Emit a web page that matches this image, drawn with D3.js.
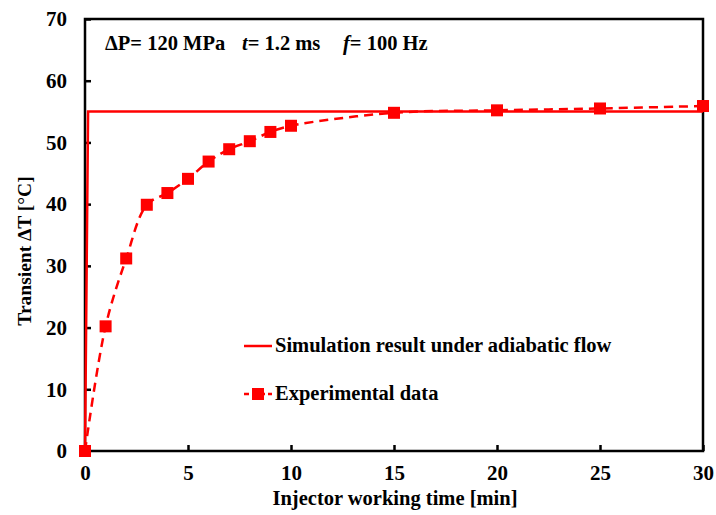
<!DOCTYPE html>
<html>
<head>
<meta charset="utf-8">
<script src="https://cdn.jsdelivr.net/npm/d3@7"></script>
<style>
  html, body { margin: 0; padding: 0; background: #fff; }
  svg { display: block; }
  text { font-family: "Liberation Serif", "Times New Roman", serif; font-weight: bold; fill: #000; }
</style>
</head>
<body>
<svg id="chart" width="716" height="515"></svg>
<script>
// Adiabatic-flow simulation (step rise to a plateau)
const simTime = [0, 0.15, 30];
const simDeltaT = [0, 55, 55];

// Measured transient temperature rise
const expTime = [0, 1, 2, 3, 4, 5, 6, 7, 8, 9, 10, 15, 20, 25, 30];
const expDeltaT = [0, 20.2, 31.2, 39.9, 41.8, 44.1, 46.9, 48.9, 50.2, 51.7, 52.7, 54.8, 55.2, 55.5, 55.9];

const xTicks = [0, 5, 10, 15, 20, 25, 30];
const yTicks = [0, 10, 20, 30, 40, 50, 60, 70];

const legendLabels = ["Simulation result under adiabatic flow", "Experimental data"];

const red = "#ff0000";
const svg = d3.select("#chart");
const m = { left: 85, top: 19, right: 703, bottom: 451 };

const x = d3.scaleLinear().domain([0, 30]).range([m.left, m.right]);
const y = d3.scaleLinear().domain([0, 70]).range([m.bottom, m.top]);

// Axes with inward ticks
const xAxis = svg.append("g").attr("transform", `translate(0,${m.bottom})`)
  .call(d3.axisBottom(x).tickValues(xTicks).tickSize(-6).tickPadding(15));
const yAxis = svg.append("g").attr("transform", `translate(${m.left},0)`)
  .call(d3.axisLeft(y).tickValues(yTicks).tickSize(-6).tickPadding(18));
[xAxis, yAxis].forEach(g => {
  g.select(".domain").remove();
  g.selectAll(".tick line").attr("stroke", "#000").attr("stroke-width", 2.5);
  g.selectAll(".tick text").style("font-size", "21px").style("font-family", "Liberation Serif").style("font-weight", "bold");
});
xAxis.selectAll(".tick text").attr("dy", "0.68em");

// Plot frame
svg.append("rect")
  .attr("x", m.left).attr("y", m.top)
  .attr("width", m.right - m.left).attr("height", m.bottom - m.top)
  .attr("fill", "none").attr("stroke", "#000").attr("stroke-width", 2.5);

// Simulation line
const simData = simTime.map((t, i) => [t, simDeltaT[i]]);
svg.append("path")
  .datum(simData)
  .attr("fill", "none").attr("stroke", red).attr("stroke-width", 2.5)
  .attr("d", d3.line().x(d => x(d[0])).y(d => y(d[1])));

// Experimental curve (smoothed, dashed) with square markers
const expData = expTime.map((t, i) => [t, expDeltaT[i]]);
svg.append("path")
  .datum(expData)
  .attr("fill", "none").attr("stroke", red).attr("stroke-width", 2.5)
  .attr("stroke-dasharray", "9,6")
  .attr("d", d3.line().curve(d3.curveCatmullRom.alpha(0.5)).x(d => x(d[0])).y(d => y(d[1])));

const ms = 12;
svg.append("g").selectAll("rect")
  .data(expData).join("rect")
  .attr("x", d => x(d[0]) - ms / 2).attr("y", d => y(d[1]) - ms / 2)
  .attr("width", ms).attr("height", ms).attr("fill", red);

// Test-condition annotation
const ann = svg.append("text").attr("y", 50).style("font-size", "20.5px");
ann.append("tspan").attr("x", 105).text("ΔP= 120 MPa");
ann.append("tspan").attr("x", 242).style("font-style", "italic").text("t");
ann.append("tspan").text("= 1.2 ms");
ann.append("tspan").attr("x", 343).style("font-style", "italic").text("f");
ann.append("tspan").text("= 100 Hz");

// Legend
const lg = svg.append("g");
lg.append("line").attr("x1", 244).attr("x2", 272).attr("y1", 346).attr("y2", 346)
  .attr("stroke", red).attr("stroke-width", 2.5);
lg.append("text").attr("x", 275).attr("y", 352).style("font-size", "20.5px").text(legendLabels[0]);
lg.append("line").attr("x1", 244).attr("x2", 272).attr("y1", 394).attr("y2", 394)
  .attr("stroke", red).attr("stroke-width", 2.5).attr("stroke-dasharray", "5,3");
lg.append("rect").attr("x", 258 - ms / 2).attr("y", 394 - ms / 2).attr("width", ms).attr("height", ms).attr("fill", red);
lg.append("text").attr("x", 275).attr("y", 400).style("font-size", "20.5px").text(legendLabels[1]);

// Axis titles
svg.append("text").attr("x", 395).attr("y", 505)
  .attr("text-anchor", "middle").style("font-size", "20.5px")
  .text("Injector working time [min]");
svg.append("text").attr("transform", "translate(31,251) rotate(-90)")
  .attr("text-anchor", "middle").style("font-size", "19.5px")
  .text("Transient ΔT [°C]");
</script>
</body>
</html>
